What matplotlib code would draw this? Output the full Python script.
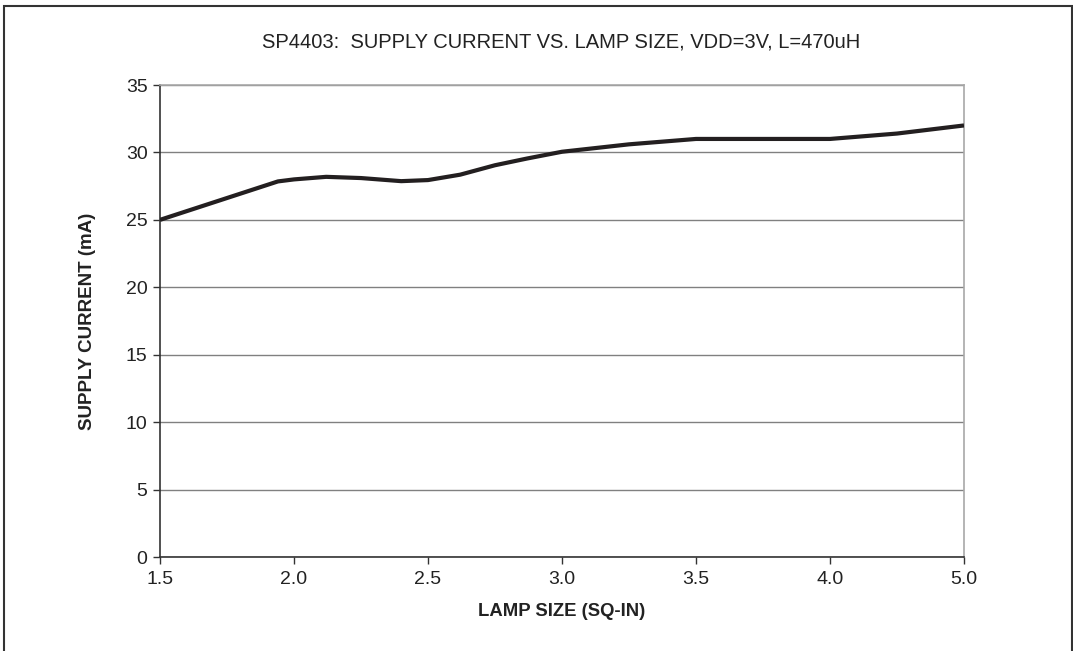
import numpy as np
import matplotlib.pyplot as plt
from matplotlib.patches import Rectangle

plt.rcParams['font.family'] = ['Liberation Sans', 'DejaVu Sans']

# category axis (evenly spaced labels, like the original)
categories = [1.5, 2.0, 2.5, 3.0, 3.5, 4.0, 5.0]
tick_labels = ['1.5', '2.0', '2.5', '3.0', '3.5', '4.0', '5.0']

# curve
lamp_size = [1.5, 1.94, 2.0, 2.12, 2.25, 2.4, 2.5, 2.62, 2.75, 2.87, 3.0,
             3.25, 3.5, 4.0, 4.25, 4.5, 5.0]
supply_current = [25.0, 27.85, 28.0, 28.19, 28.1, 27.87, 27.95, 28.35, 29.05,
                  29.55, 30.05, 30.6, 31.0, 31.0, 31.2, 31.4, 32.0]

# lamp size -> position on the category axis
pos = np.interp(lamp_size, categories, np.arange(len(categories)))

W, H = 1073, 651
fig = plt.figure(figsize=(W / 100, H / 100), dpi=100)
ax = fig.add_axes([160 / W, 94 / H, 804 / W, 472 / H])

ax.plot(pos, supply_current, color='#231f20', lw=3.0, solid_joinstyle='round',
        solid_capstyle='butt', zorder=3)

ax.set_xlim(0, len(categories) - 1)
ax.set_ylim(0, 35)
ax.set_xticks(np.arange(len(categories)))
ax.set_xticklabels(tick_labels)
ax.set_yticks(np.arange(0, 36, 5))
ax.yaxis.grid(True, color='#808080', lw=1.0)
ax.set_axisbelow(True)

for s in ['top', 'right']:
    ax.spines[s].set_color('#a8a8a8')
    ax.spines[s].set_linewidth(1.2)
for s in ['left', 'bottom']:
    ax.spines[s].set_color('#333333')
    ax.spines[s].set_linewidth(1.2)

ax.tick_params(axis='both', direction='out', length=5, width=1.0,
               color='#333333', labelsize=14, labelcolor='#222222')
ax.tick_params(axis='x', pad=5)
ax.tick_params(axis='y', pad=4)

fig.text(562 / W, 1 - 612 / H, 'LAMP SIZE (SQ-IN)', ha='center', va='center',
         fontsize=13.3, fontweight='bold', color='#222222')
fig.text(88 / W, 1 - 321 / H, 'SUPPLY CURRENT (mA)', ha='center', va='center',
         rotation=90, fontsize=13.5, fontweight='bold', color='#222222')
fig.text(561 / W, 1 - 42 / H, 'SP4403:  SUPPLY CURRENT VS. LAMP SIZE, VDD=3V, L=470uH',
         ha='center', va='center', fontsize=14.5, color='#222222')

# outer frame
fig.patches.append(Rectangle((4 / W, -0.05), 1068 / W, 1.0 - 6 / H + 0.05,
                             transform=fig.transFigure, fill=False,
                             edgecolor='#333333', lw=1.5))

fig.savefig('out.png', dpi=100)
